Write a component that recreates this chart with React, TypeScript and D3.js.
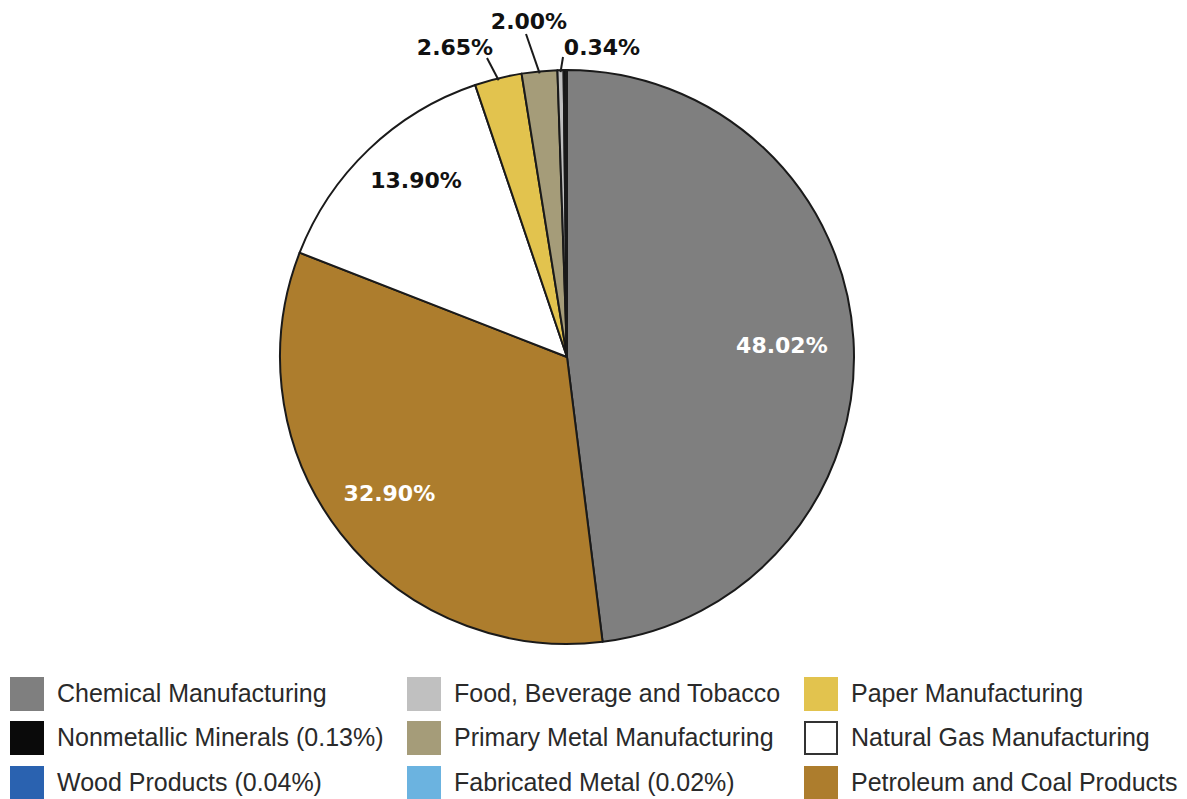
import React from "react";
import * as d3 from "d3";

const categories = [
  "Chemical Manufacturing",
  "Petroleum and Coal Products",
  "Natural Gas Manufacturing",
  "Paper Manufacturing",
  "Primary Metal Manufacturing",
  "Food, Beverage and Tobacco",
  "Nonmetallic Minerals (0.13%)",
  "Wood Products (0.04%)",
  "Fabricated Metal (0.02%)",
];
const values = [48.02, 32.9, 13.9, 2.65, 2.0, 0.34, 0.13, 0.04, 0.02];
const colors = ["#7f7f7f", "#ad7d2d", "#ffffff", "#e2c34e", "#a59c79", "#c0c0c0", "#0a0a0a", "#2a62b0", "#6bb3e0"];
const sliceLabels = ["48.02%", "32.90%", "13.90%", "2.65%", "2.00%", "0.34%", "", "", ""];
const legendOrder = [
  ["Chemical Manufacturing", "Food, Beverage and Tobacco", "Paper Manufacturing"],
  ["Nonmetallic Minerals (0.13%)", "Primary Metal Manufacturing", "Natural Gas Manufacturing"],
  ["Wood Products (0.04%)", "Fabricated Metal (0.02%)", "Petroleum and Coal Products"],
];

export default function App() {
  const W = 1187, H = 799;
  const cx = 567, cy = 357, R = 287;
  const pie = d3.pie<number>().sort(null).value((d) => d);
  const arcs = pie(values);
  const arc = d3.arc<d3.PieArcDatum<number>>().innerRadius(0).outerRadius(R);
  const font = "'Liberation Sans', Arial, sans-serif";
  const labelFont = "'DejaVu Sans', 'Liberation Sans', sans-serif";

  // label placement: inside for big slices (radius fraction + angle in degrees), outside with leaders for small
  const inside: Record<number, { r: number; deg: number; color: string }> = {
    0: { r: 0.75, deg: 86.8, color: "#ffffff" },
    1: { r: 0.78, deg: 232.5, color: "#ffffff" },
    2: { r: 0.81, deg: 319.5, color: "#111111" },
  };
  const outside: Record<number, { tx: number; ty: number; lx: number; ly: number }> = {
    3: { tx: 455, ty: 55, lx: 487, ly: 58 },
    4: { tx: 529, ty: 29, lx: 526, ly: 34 },
    5: { tx: 602, ty: 55, lx: 563, ly: 57 },
  };

  const colX = [10, 407, 804];
  const rowY = [677, 721, 766];
  const sw = 34;

  return (
    <svg width={W} height={H} style={{ position: "absolute", left: 0, top: 0, background: "#fff" }}>
      <g transform={`translate(${cx},${cy})`}>
        {arcs.map((a, i) => (
          <path key={i} d={arc(a) || ""} fill={colors[i]} stroke="#1a1a1a" strokeWidth={2} strokeLinejoin="round" />
        ))}
      </g>
      {arcs.map((a, i) => {
        const mid = (a.startAngle + a.endAngle) / 2;
        if (inside[i]) {
          const r = R * inside[i].r;
          const ang = (inside[i].deg * Math.PI) / 180;
          const x = cx + r * Math.sin(ang);
          const y = cy - r * Math.cos(ang);
          return (
            <text key={i} x={x} y={y} dy="0.35em" textAnchor="middle" fontFamily={labelFont} fontWeight="bold" fontSize={22} fill={inside[i].color}>
              {sliceLabels[i]}
            </text>
          );
        }
        if (outside[i]) {
          const o = outside[i];
          const ex = cx + (R - 2) * Math.sin(mid);
          const ey = cy - (R - 2) * Math.cos(mid);
          return (
            <g key={i}>
              <line x1={ex} y1={ey} x2={o.lx} y2={o.ly} stroke="#1a1a1a" strokeWidth={2} />
              <text x={o.tx} y={o.ty} textAnchor="middle" fontFamily={labelFont} fontWeight="bold" fontSize={22} fill="#111">
                {sliceLabels[i]}
              </text>
            </g>
          );
        }
        return null;
      })}
      {legendOrder.map((row, ri) =>
        row.map((name, ci) => {
          const idx = categories.indexOf(name);
          const x = colX[ci], y = rowY[ri];
          const isWhite = colors[idx] === "#ffffff";
          return (
            <g key={name}>
              <rect
                x={x + (isWhite ? 1 : 0)}
                y={y + (isWhite ? 1 : 0)}
                width={isWhite ? sw - 2 : sw}
                height={isWhite ? sw - 2 : sw}
                fill={colors[idx]}
                stroke={isWhite ? "#333" : "none"}
                strokeWidth={isWhite ? 2 : 0}
              />
              <text x={x + 47} y={y + 25} fontFamily={font} fontSize={25} fill="#2a2a2a">
                {name}
              </text>
            </g>
          );
        })
      )}
    </svg>
  );
}
